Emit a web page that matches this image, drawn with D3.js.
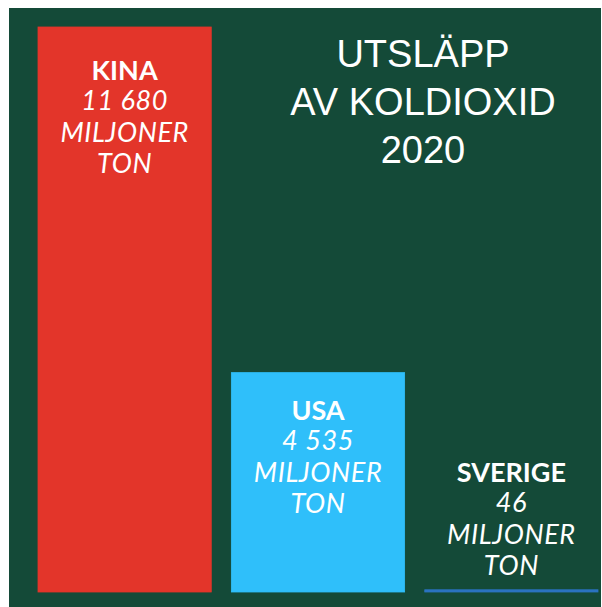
<!DOCTYPE html>
<html>
<head>
<meta charset="utf-8">
<script src="https://cdn.jsdelivr.net/npm/d3@7"></script>
<style>
  body { margin: 0; background: #fff; }
  svg { display: block; }
</style>
</head>
<body>
<svg id="chart"></svg>
<script>
const countries = ['KINA', 'USA', 'SVERIGE'];
const emissions = [11680, 4535, 46]; // miljoner ton CO2
const valueLabels = ['11 680', '4 535', '46'];
const barColors = ['#e3352a', '#2fbffa', '#2b73c0'];
const titleLines = ['UTSLÄPP', 'AV KOLDIOXID', '2020'];

const width = 602, height = 607;
const baseline = 592;

let svg = d3.select('#chart')
  .attr('width', width)
  .attr('height', height);

// background panel
svg.append('rect')
  .attr('x', 9)
  .attr('y', 8)
  .attr('width', 592)
  .attr('height', height - 8)
  .attr('fill', '#144a38');

let data = countries.map((c, i) => ({
  name: c, value: emissions[i], label: valueLabels[i], color: barColors[i]
}));

let x = d3.scaleBand()
  .domain(countries)
  .range([38, 598])
  .paddingInner(0.104)
  .paddingOuter(0);

let y = d3.scaleLinear()
  .domain([0, 11680])
  .range([baseline, 27]);

// bars
svg.selectAll('.bar')
  .data(data)
  .enter()
  .append('rect')
  .attr('class', 'bar')
  .attr('x', d => x(d.name))
  .attr('width', x.bandwidth())
  .attr('y', d => y(d.value))
  .attr('height', d => baseline - y(d.value))
  .attr('fill', d => d.color)
  .attr('stroke', d => d.color)
  .attr('stroke-width', 0.8);

// labels: inside the bar if it is tall enough, otherwise above it
let labels = svg.selectAll('.label')
  .data(data)
  .enter()
  .append('text')
  .attr('class', 'label')
  .attr('text-anchor', 'middle')
  .attr('fill', '#fff')
  .style('font-family', 'Lato, "Open Sans", sans-serif')
  .attr('transform', d => {
    let top = y(d.value);
    let ty = (baseline - top) > 150 ? top + (d.name === 'KINA' ? 53 : 47) : top - 108;
    return `translate(${x(d.name) + x.bandwidth() / 2},${ty})`;
  });

labels.each(function (d) {
  let t = d3.select(this);
  t.append('tspan')
    .attr('x', 0).attr('y', 0)
    .style('font-weight', 700)
    .style('font-size', '27px')
    .text(d.name);
  [d.label, 'MILJONER', 'TON'].forEach((s, i) => {
    t.append('tspan')
      .attr('x', 0)
      .attr('y', 31 * (i + 1) - (i === 0 ? 1 : 0))
      .style('font-style', 'italic')
      .style('font-size', '27px')
      .style('letter-spacing', '0.6px')
      .text(s);
  });
});

// title
svg.append('text')
  .attr('text-anchor', 'middle')
  .attr('fill', '#fff')
  .style('font-family', '"Liberation Sans", Arial, sans-serif')
  .style('font-size', '38px')
  .selectAll('tspan')
  .data(titleLines)
  .enter()
  .append('tspan')
  .attr('x', 423)
  .attr('y', (d, i) => 67 + i * 48)
  .text(d => d);
</script>
</body>
</html>
